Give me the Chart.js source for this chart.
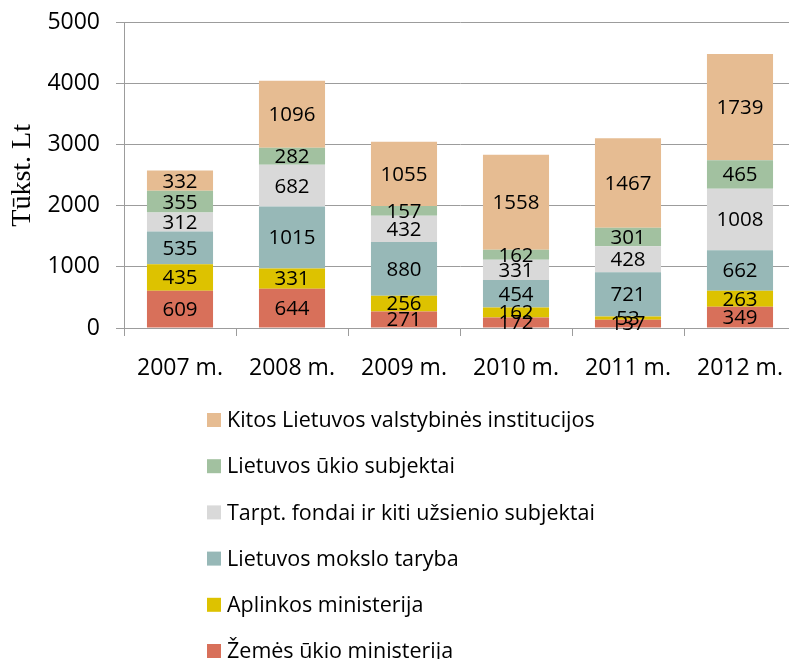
<!DOCTYPE html>
<html>
<head>
<meta charset="utf-8">
<script src="https://cdn.jsdelivr.net/npm/chart.js@4/dist/chart.umd.min.js"></script>
<style>
  html, body { margin: 0; padding: 0; background: #fff; overflow: hidden; }
  canvas { display: block; }
</style>
</head>
<body>
<canvas id="c" width="796" height="659"></canvas>
<script>
const categories = ['2007 m.', '2008 m.', '2009 m.', '2010 m.', '2011 m.', '2012 m.'];
const zemesUkio   = [609, 644, 271, 172, 137, 349];
const aplinkos    = [435, 331, 256, 162, 53, 263];
const moksloTaryba = [535, 1015, 880, 454, 721, 662];
const tarptFondai = [312, 682, 432, 331, 428, 1008];
const ukioSubjektai = [355, 282, 157, 162, 301, 465];
const kitos       = [332, 1096, 1055, 1558, 1467, 1739];
const yTicks = [0, 500, 1000, 1500, 2000, 2500, 3000, 3500, 4000, 4500, 5000];

const FONT = '"Open Sans", "Liberation Sans", sans-serif';
const GRID = '#9c9c9c';

const datasets = [
  { label: 'Žemės ūkio ministerija', data: zemesUkio, backgroundColor: '#D8705A' },
  { label: 'Aplinkos ministerija', data: aplinkos, backgroundColor: '#DDC200' },
  { label: 'Lietuvos mokslo taryba', data: moksloTaryba, backgroundColor: '#97B8B7' },
  { label: 'Tarpt. fondai ir kiti užsienio subjektai', data: tarptFondai, backgroundColor: '#D9D9D9' },
  { label: 'Lietuvos ūkio subjektai', data: ukioSubjektai, backgroundColor: '#A2C1A0' },
  { label: 'Kitos Lietuvos valstybinės institucijos', data: kitos, backgroundColor: '#E6BC92' }
];
datasets.forEach(d => { d.categoryPercentage = 1; d.barPercentage = 0.59; d.borderWidth = 0; });

const valueLabels = {
  id: 'valueLabels',
  afterDatasetsDraw(chart) {
    const ctx = chart.ctx;
    ctx.save();
    ctx.font = '20.5px ' + FONT;
    ctx.fillStyle = '#000';
    ctx.textAlign = 'center';
    ctx.textBaseline = 'middle';
    chart.data.datasets.forEach((ds, i) => {
      const meta = chart.getDatasetMeta(i);
      meta.data.forEach((el, j) => {
        const p = el.getProps(['x', 'y', 'base'], true);
        ctx.fillText(String(ds.data[j]), p.x, (p.y + p.base) / 2 + 1);
      });
    });
    ctx.restore();
  }
};

const customLegend = {
  id: 'customLegend',
  afterDraw(chart) {
    const ctx = chart.ctx;
    ctx.save();
    ctx.font = '21.5px ' + FONT;
    ctx.textAlign = 'left';
    ctx.textBaseline = 'middle';
    const n = chart.data.datasets.length;
    for (let k = 0; k < n; k++) {
      const ds = chart.data.datasets[n - 1 - k];
      const cy = 420 + k * 46.2;
      ctx.fillStyle = ds.backgroundColor;
      ctx.fillRect(207, cy - 7, 14, 14);
      ctx.fillStyle = '#000';
      ctx.fillText(ds.label, 227, cy + 1);
    }
    ctx.restore();
  }
};

new Chart(document.getElementById('c'), {
  type: 'bar',
  data: { labels: categories, datasets },
  options: {
    responsive: false,
    animation: false,
    devicePixelRatio: 1,
    layout: { padding: { top: 22.7, left: 0, right: 0, bottom: 0 } },
    plugins: { legend: { display: false }, tooltip: { enabled: false } },
    scales: {
      x: {
        stacked: true,
        offset: true,
        grid: { offset: true, drawOnChartArea: false, drawTicks: true, tickLength: 8, color: GRID, lineWidth: 1 },
        border: { display: true, color: GRID, width: 1 },
        ticks: { color: '#000', font: { family: FONT, size: 23 }, padding: 19, maxRotation: 0, autoSkip: false },
        afterFit(scale) { scale.height = 331; scale.paddingLeft = 0; scale.paddingRight = 0; }
      },
      y: {
        stacked: true,
        min: 0,
        max: 5000,
        afterBuildTicks(scale) { scale.ticks = yTicks.map(v => ({ value: v })); },
        grid: { color: GRID, lineWidth: 1, tickLength: 8, drawTicks: true },
        border: { display: true, color: GRID, width: 1 },
        ticks: { color: '#000', font: { family: FONT, size: 23 }, padding: 16, callback: v => String(v) },
        title: { display: true, text: 'Tūkst. Lt', color: '#000', font: { family: '"Liberation Serif", "Times New Roman", serif', size: 28 }, padding: { top: 6, bottom: 0 } },
        afterFit(scale) { scale.width = 124; scale.paddingTop = 0; scale.paddingBottom = 0; }
      }
    }
  },
  plugins: [valueLabels, customLegend]
});
</script>
</body>
</html>
